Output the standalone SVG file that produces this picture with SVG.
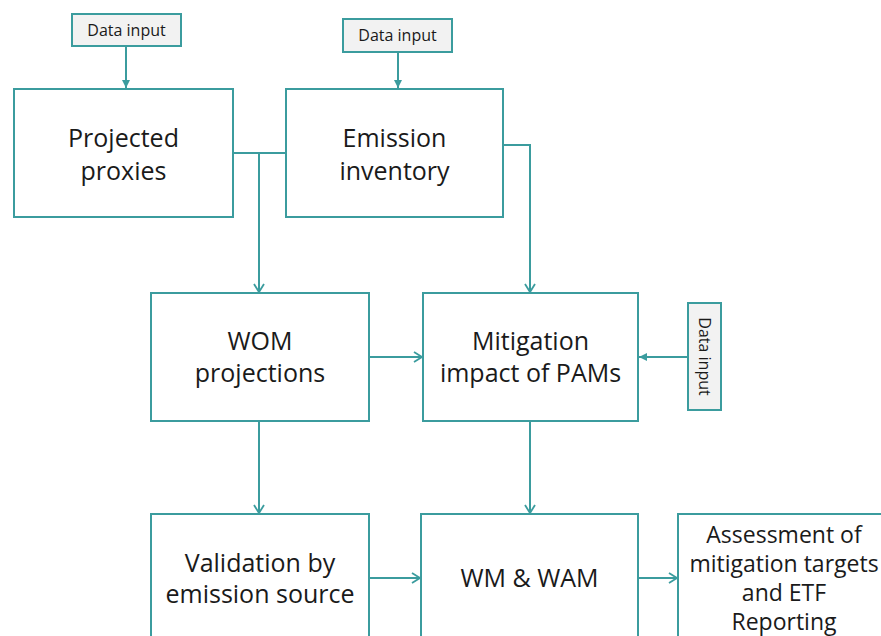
<svg xmlns="http://www.w3.org/2000/svg" width="881" height="636" viewBox="0 0 881 636">
<style>
.box{fill:#ffffff;stroke:#3b9c9e;stroke-width:2}
.inp{fill:#f2f2f2;stroke:#3b9c9e;stroke-width:2}
.t{font-family:"Open Sans","Noto Sans",sans-serif;font-size:25px;fill:#1a1a1a;text-anchor:middle}
.ts{font-family:"Open Sans","Noto Sans",sans-serif;font-size:23px;fill:#1a1a1a;text-anchor:middle}
.ti{font-family:"Open Sans","Noto Sans",sans-serif;font-size:16px;fill:#1a1a1a;text-anchor:middle}
.c{fill:none;stroke:#3b9c9e;stroke-width:2}
</style>
<defs>
<marker id="open" markerWidth="12" markerHeight="12" refX="10" refY="6" orient="auto" markerUnits="userSpaceOnUse">
<path d="M2,1 L10,6 L2,11" fill="none" stroke="#3b9c9e" stroke-width="1.8"/>
</marker>
<marker id="fill" markerWidth="10" markerHeight="10" refX="9" refY="5" orient="auto" markerUnits="userSpaceOnUse">
<path d="M1,1 L9,5 L1,9 Z" fill="#3b9c9e"/>
</marker>
</defs>
<rect width="881" height="636" fill="#ffffff"/>
<g id="connectors">
<line class="c" x1="126" y1="46" x2="126" y2="88" marker-end="url(#fill)"/>
<line class="c" x1="398" y1="52" x2="398" y2="88" marker-end="url(#fill)"/>
<line class="c" x1="233" y1="153" x2="286" y2="153"/>
<line class="c" x1="259" y1="153" x2="259" y2="292" marker-end="url(#open)"/>
<polyline class="c" points="503,145 530,145 530,292" marker-end="url(#open)"/>
<line class="c" x1="369" y1="357" x2="422" y2="357" marker-end="url(#open)"/>
<line class="c" x1="688" y1="357" x2="639" y2="357" marker-end="url(#fill)"/>
<line class="c" x1="259" y1="422" x2="259" y2="513" marker-end="url(#open)"/>
<line class="c" x1="530" y1="422" x2="530" y2="513" marker-end="url(#open)"/>
<line class="c" x1="369" y1="578" x2="420" y2="578" marker-end="url(#open)"/>
<line class="c" x1="638" y1="578" x2="677" y2="578" marker-end="url(#open)"/>
</g>
<g id="input1">
<rect class="inp" x="72" y="14" width="109" height="32"/>
<text class="ti" x="126.5" y="36">Data input</text>
</g>
<g id="input2">
<rect class="inp" x="343" y="19" width="109" height="33"/>
<text class="ti" x="397.5" y="41">Data input</text>
</g>
<g id="input3">
<rect class="inp" x="688" y="303" width="33" height="107"/>
<text class="ti" transform="translate(699,356.5) rotate(90)" x="0" y="0">Data input</text>
</g>
<g id="proxies">
<rect class="box" x="14" y="89" width="219" height="128"/>
<text class="t" x="123.5" y="147">Projected</text>
<text class="t" x="123.5" y="180">proxies</text>
</g>
<g id="inventory">
<rect class="box" x="286" y="89" width="217" height="128"/>
<text class="t" x="394.5" y="147">Emission</text>
<text class="t" x="394.5" y="180">inventory</text>
</g>
<g id="wom">
<rect class="box" x="151" y="293" width="218" height="128"/>
<text class="t" x="260" y="350">WOM</text>
<text class="t" x="260" y="382">projections</text>
</g>
<g id="mitigation">
<rect class="box" x="423" y="293" width="215" height="128"/>
<text class="t" x="530.5" y="350">Mitigation</text>
<text class="t" x="530.5" y="382">impact of PAMs</text>
</g>
<g id="validation">
<rect class="box" x="151" y="514" width="218" height="140"/>
<text class="t" x="260" y="572">Validation by</text>
<text class="t" x="260" y="603">emission source</text>
</g>
<g id="wmwam">
<rect class="box" x="421" y="514" width="217" height="140"/>
<text class="t" x="529.5" y="587">WM &amp; WAM</text>
</g>
<g id="assessment">
<rect class="box" x="678" y="514" width="230" height="140"/>
<text class="ts" x="784" y="543">Assessment of</text>
<text class="ts" x="784" y="572">mitigation targets</text>
<text class="ts" x="784" y="601">and ETF</text>
<text class="ts" x="784" y="630">Reporting</text>
</g>
</svg>
